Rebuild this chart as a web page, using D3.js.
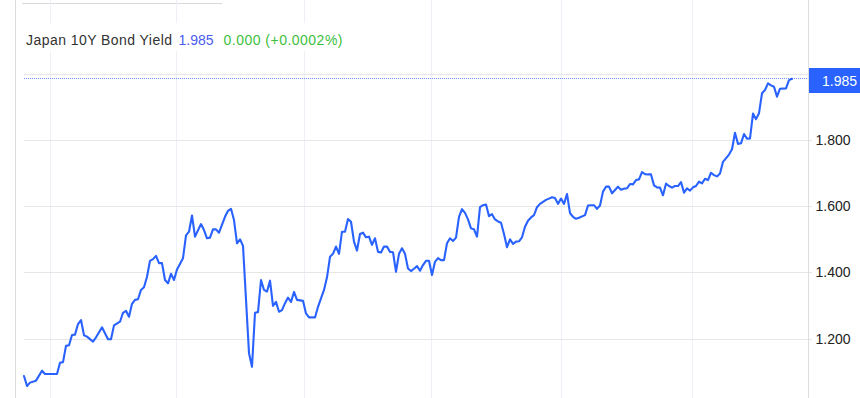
<!DOCTYPE html>
<html>
<head>
<meta charset="utf-8">
<script src="https://cdn.jsdelivr.net/npm/d3@7"></script>
<style>
  html, body { margin: 0; padding: 0; background: #fff; }
  svg { display: block; font-family: "Liberation Sans", Arial, sans-serif; }
</style>
</head>
<body>
<svg id="chart" width="860" height="398"></svg>
<script>
// ---- data (trading-day index, yield %) ----
const days = [0,1,2,4,6,7,11,12,13,14,15,16,17,18,19,20,21,23,24,26,28,29,30,32,33,34,35,36,37,38,39,40,41,42,43,44,45,46,47,48,49,50,51,53,54,55,56,57,59,60,61,62,63,64,65,67,68,69,70,71,72,73,75,76,77,78,79,80,81,82,83,84,85,86,87,88,89,90,91,93,94,95,97,98,100,101,102,103,104,105,106,107,108,109,110,111,112,113,114,115,116,117,118,119,120,121,122,123,124,125,126,127,128,129,130,131,132,133,134,135,136,137,138,139,140,141,142,143,144,145,146,147,148,149,150,151,152,153,154,155,156,157,158,159,160,161,162,163,164,165,166,167,168,169,170,171,172,173,174,175,176,177,178,179,180,181,182,183,184,185,187,188,189,190,191,192,193,194,195,196,197,198,199,200,201,202,203,204,205,206,207,208,209,210,211,212,213,214,215,216,217,218,219,220,221,222,223,224,225,226,227,228,229,230,231,232,233,235,236,237,238,239,240,241,242,243,244,245,246,247,248,249,250,251,252,254,255,256];
const yields = [1.087,1.057,1.067,1.073,1.103,1.093,1.093,1.127,1.129,1.178,1.180,1.211,1.212,1.244,1.256,1.210,1.206,1.191,1.204,1.234,1.198,1.198,1.240,1.251,1.278,1.284,1.266,1.305,1.317,1.319,1.347,1.355,1.387,1.435,1.440,1.450,1.428,1.428,1.377,1.367,1.396,1.377,1.409,1.443,1.512,1.523,1.572,1.508,1.546,1.528,1.503,1.505,1.530,1.530,1.520,1.568,1.586,1.592,1.558,1.488,1.500,1.480,1.156,1.115,1.278,1.280,1.377,1.347,1.342,1.375,1.299,1.311,1.281,1.286,1.307,1.324,1.311,1.341,1.317,1.314,1.276,1.264,1.264,1.296,1.347,1.385,1.447,1.456,1.478,1.456,1.523,1.523,1.561,1.553,1.493,1.466,1.516,1.520,1.506,1.508,1.483,1.503,1.462,1.460,1.478,1.478,1.462,1.461,1.402,1.456,1.473,1.456,1.412,1.404,1.411,1.419,1.405,1.422,1.435,1.435,1.392,1.432,1.443,1.437,1.437,1.488,1.503,1.495,1.505,1.568,1.591,1.580,1.560,1.533,1.530,1.508,1.597,1.603,1.605,1.570,1.576,1.560,1.554,1.550,1.516,1.476,1.500,1.486,1.493,1.494,1.506,1.538,1.556,1.566,1.573,1.597,1.607,1.613,1.619,1.623,1.627,1.625,1.607,1.623,1.607,1.637,1.579,1.568,1.562,1.565,1.573,1.602,1.603,1.603,1.592,1.602,1.644,1.659,1.659,1.639,1.649,1.659,1.650,1.653,1.654,1.667,1.666,1.679,1.681,1.703,1.697,1.696,1.696,1.663,1.657,1.656,1.633,1.668,1.661,1.656,1.661,1.661,1.673,1.641,1.654,1.647,1.657,1.661,1.674,1.669,1.683,1.679,1.701,1.694,1.690,1.699,1.734,1.756,1.772,1.822,1.788,1.790,1.818,1.804,1.805,1.880,1.863,1.881,1.941,1.951,1.971,1.965,1.961,1.931,1.955,1.956,1.981,1.985];
const gridDays = [8.7, 50.7, 93.3, 135.7, 179, 222.7];      // vertical date grid lines
const gridValues = [1.2, 1.4, 1.6, 1.8, 2.0];
const tickLabels = ["1.200", "1.400", "1.600", "1.800"];
const tickValues = [1.2, 1.4, 1.6, 1.8];
const titleText = "Japan 10Y Bond Yield";
const lastValue = "1.985";
const changeText = "0.000 (+0.0002%)";

// ---- scales ----
const x = d3.scaleLinear().domain([0, 256]).range([24, 792]);
const y = d3.scaleLinear().domain([1.2, 1.8]).range([338.6, 140]);

const svg = d3.select("#chart");

// frame lines
svg.append("line").attr("x1", 15.5).attr("x2", 15.5).attr("y1", 0).attr("y2", 398)
  .attr("stroke", "#dcdcdc").attr("stroke-width", 1);
svg.append("line").attr("x1", 22).attr("x2", 222).attr("y1", 3.5).attr("y2", 3.5)
  .attr("stroke", "#d9d9d9").attr("stroke-width", 1);

// vertical grid
svg.append("g").selectAll("line").data(gridDays).join("line")
  .attr("x1", d => Math.round(x(d)) + 0.5).attr("x2", d => Math.round(x(d)) + 0.5)
  .attr("y1", 0).attr("y2", 398)
  .attr("stroke", "#edf1f7").attr("stroke-width", 1);

// horizontal grid
svg.append("g").selectAll("line").data(gridValues).join("line")
  .attr("x1", 24).attr("x2", 812)
  .attr("y1", d => Math.round(y(d)) + 0.5).attr("y2", d => Math.round(y(d)) + 0.5)
  .attr("stroke", "#e6e6e6").attr("stroke-width", 1);

// right axis line
svg.append("line").attr("x1", 808.5).attr("x2", 808.5).attr("y1", 0).attr("y2", 398)
  .attr("stroke", "#dedede").attr("stroke-width", 1);

// axis labels
const axis = d3.axisRight(y).tickValues(tickValues)
  .tickFormat((d, i) => tickLabels[i]).tickSize(0).tickPadding(7);
const ag = svg.append("g").attr("transform", "translate(808.5,0)").call(axis);
ag.select(".domain").remove();
ag.selectAll("text").attr("font-size", "14px").attr("fill", "#222")
  .attr("font-family", "'Liberation Sans', Arial, sans-serif");

// legend background
svg.append("rect").attr("x", 20).attr("y", 23).attr("width", 330).attr("height", 28).attr("fill", "#fff");

// last value dotted line
svg.append("line").attr("x1", 24).attr("x2", 808)
  .attr("y1", Math.round(y(1.985)) - 0.5).attr("y2", Math.round(y(1.985)) - 0.5)
  .attr("stroke", "#6a8ff7").attr("stroke-width", 1).attr("stroke-dasharray", "1,1");

// the line
const line = d3.line().x((d, i) => x(days[i])).y(d => y(d)).curve(d3.curveLinear);
svg.append("path").datum(yields)
  .attr("d", line).attr("fill", "none")
  .attr("stroke", "#2962ff").attr("stroke-width", 2.1)
  .attr("stroke-linejoin", "round").attr("stroke-linecap", "round");

// last value label
svg.append("rect").attr("x", 809).attr("y", 68).attr("width", 51).attr("height", 25).attr("fill", "#2962ff");
svg.append("text").attr("x", 857).attr("y", 81).attr("text-anchor", "end")
  .attr("dominant-baseline", "central").attr("font-size", "14px").attr("fill", "#fff")
  .text(lastValue);

// legend
const lg = svg.append("g").attr("font-size", "14px");
lg.append("text").attr("x", 26).attr("y", 44.5).attr("fill", "#333")
  .attr("textLength", 146).attr("lengthAdjust", "spacing").text(titleText);
lg.append("text").attr("x", 178.5).attr("y", 44.5).attr("fill", "#4a5cf0").text(lastValue);
lg.append("text").attr("x", 223.5).attr("y", 44.5).attr("fill", "#3cbf3c")
  .attr("textLength", 119).attr("lengthAdjust", "spacing").text(changeText);
</script>
</body>
</html>
